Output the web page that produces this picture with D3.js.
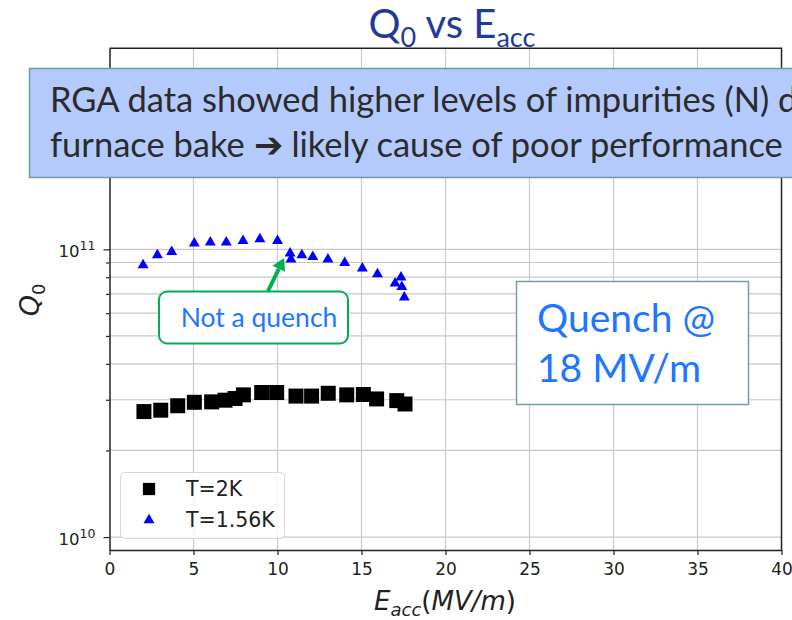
<!DOCTYPE html>
<meta charset="utf-8" />
<script src="https://d3js.org/d3.v7.min.js"></script>
<style>
  body { margin: 0; background: #fff; }
  svg { display: block; }
</style>
<body>
<div id="chart"></div>
<script>
  // measured data, T = 2K (squares)
  var e2K = [2.05, 3.05, 4.06, 5.05, 6.08, 6.88, 7.47, 7.97, 9.06, 9.95, 11.1, 12.03, 13.02, 14.12, 15.11, 15.9, 17.1, 17.59];
  var q2K = [2.73e10, 2.76e10, 2.86e10, 2.94e10, 2.95e10, 2.99e10, 3.03e10, 3.12e10, 3.18e10, 3.18e10, 3.09e10, 3.09e10, 3.16e10, 3.12e10, 3.13e10, 3.02e10, 2.98e10, 2.9e10];

  // T = 1.56K (triangles)
  var e156K = [2.0, 2.85, 3.7, 5.05, 6.0, 6.95, 7.95, 8.95, 10.0, 10.75, 10.8, 11.45, 12.1, 13.0, 14.0, 15.05, 15.95, 17.0, 17.35, 17.4, 17.55];
  var q156K = [8.82e10, 9.55e10, 9.8e10, 1.05e11, 1.057e11, 1.057e11, 1.071e11, 1.086e11, 1.071e11, 9.68e10, 9.23e10, 9.55e10, 9.42e10, 9.23e10, 8.98e10, 8.59e10, 8.21e10, 7.62e10, 8.0e10, 7.41e10, 6.81e10];

  var xTicks = [0, 5, 10, 15, 20, 25, 30, 35, 40];
  var yMajor = [1e10, 1e11];
  var yMinor = [2e10, 3e10, 4e10, 5e10, 6e10, 7e10, 8e10, 9e10, 2e11, 3e11, 4e11];
  var legendLabels = ["T=2K", "T=1.56K"];

  var W = 792, H = 620;
  var plot = { left: 109.5, right: 781.5, top: 48.3, bottom: 550 };

  var svg = d3.select("#chart").append("svg")
    .attr("width", W).attr("height", H);

  var x = d3.scaleLinear().domain([0, 40]).range([plot.left, plot.right]);
  var y = d3.scaleLog().domain([Math.pow(10, 9.955), Math.pow(10, 11.6987)]).range([plot.bottom, plot.top]);

  // grid
  var grid = svg.append("g").attr("stroke", "#c8c8c8").attr("stroke-width", 1.2);
  grid.selectAll(".vg").data(xTicks.slice(1, -1)).enter().append("line")
    .attr("x1", function(d) { return x(d); }).attr("x2", function(d) { return x(d); })
    .attr("y1", plot.top).attr("y2", plot.bottom);
  grid.selectAll(".hg").data(yMajor.concat(yMinor)).enter().append("line")
    .attr("x1", plot.left).attr("x2", plot.right)
    .attr("y1", function(d) { return y(d); }).attr("y2", function(d) { return y(d); });

  // axes
  var xAxis = svg.append("g")
    .attr("transform", "translate(0," + plot.bottom + ")")
    .call(d3.axisBottom(x).tickValues(xTicks).tickSize(5).tickSizeOuter(0).tickPadding(8));
  xAxis.selectAll("text").attr("font-family", "DejaVu Sans").attr("font-size", 17).attr("fill", "#222");

  var yAxis = svg.append("g")
    .attr("transform", "translate(" + plot.left + ",0)")
    .call(d3.axisLeft(y).tickValues(yMajor).tickSize(6).tickSizeOuter(0).tickFormat(function() { return ""; }));
  yAxis.selectAll(".tick text").each(function(d) {
    var t = d3.select(this)
      .attr("font-family", "DejaVu Sans").attr("font-size", 16.5).attr("fill", "#222")
      .attr("dy", "0.45em").attr("x", -14);
    t.append("tspan").text("10");
    t.append("tspan").attr("dy", "-0.55em").attr("font-size", 12.5).text(Math.round(Math.log10(d)));
  });
  svg.append("g")
    .attr("transform", "translate(" + plot.left + ",0)")
    .call(d3.axisLeft(y).tickValues(yMinor).tickSize(3.5).tickFormat(function() { return ""; }))
    .select(".domain").remove();

  svg.selectAll(".domain").attr("stroke", "#222").attr("stroke-width", 1.5);
  svg.selectAll(".tick line").attr("stroke", "#222").attr("stroke-width", 1.2);

  // frame top/right
  svg.append("path")
    .attr("d", "M" + plot.left + "," + plot.top + "H" + plot.right + "V" + plot.bottom)
    .attr("fill", "none").attr("stroke", "#222").attr("stroke-width", 1.5);

  // data
  var sq = d3.symbol().type(d3.symbolSquare).size(225);
  var tri = d3.symbol().type(d3.symbolTriangle).size(52);

  svg.append("g").selectAll("path").data(e2K).enter().append("path")
    .attr("d", sq)
    .attr("transform", function(d, i) { return "translate(" + x(d) + "," + y(q2K[i]) + ")"; })
    .attr("fill", "#000");

  svg.append("g").selectAll("path").data(e156K).enter().append("path")
    .attr("d", tri)
    .attr("transform", function(d, i) { return "translate(" + x(d) + "," + y(q156K[i]) + ")"; })
    .attr("fill", "#0000ff");

  // legend
  var lg = svg.append("g");
  lg.append("rect").attr("x", 120.5).attr("y", 472.5).attr("width", 164).attr("height", 66).attr("rx", 4)
    .attr("fill", "#fff").attr("fill-opacity", 0.8).attr("stroke", "#d6d6d6");
  lg.append("path").attr("d", d3.symbol().type(d3.symbolSquare).size(150))
    .attr("transform", "translate(149,489)").attr("fill", "#000");
  lg.append("path").attr("d", tri).attr("transform", "translate(149,520)").attr("fill", "#0000ff");
  lg.selectAll("text").data(legendLabels).enter().append("text")
    .attr("x", 186).attr("y", function(d, i) { return 496 + i * 31; })
    .attr("font-family", "DejaVu Sans").attr("font-size", 20.5).attr("fill", "#222")
    .text(function(d) { return d; });

  // axis labels
  var xl = svg.append("text").attr("x", 445).attr("y", 610).attr("text-anchor", "middle")
    .attr("font-family", "DejaVu Sans").attr("font-size", 26).attr("fill", "#222");
  xl.append("tspan").attr("font-style", "italic").text("E");
  xl.append("tspan").attr("font-style", "italic").attr("font-size", 18).attr("dy", 6).text("acc");
  xl.append("tspan").attr("dy", -6).text("(");
  xl.append("tspan").attr("font-style", "italic").text("MV/m");
  xl.append("tspan").text(")");

  var yl = svg.append("text").attr("transform", "translate(39,300) rotate(-90)").attr("text-anchor", "middle")
    .attr("font-family", "DejaVu Sans").attr("font-size", 27).attr("fill", "#222");
  yl.append("tspan").attr("font-style", "italic").text("Q");
  yl.append("tspan").attr("font-size", 18).attr("dy", 6).text("0");

  // title
  var title = svg.append("text").attr("x", 452).attr("y", 38).attr("text-anchor", "middle")
    .attr("font-family", "Lato").attr("font-size", 40).attr("fill", "#1f3a9a");
  title.append("tspan").text("Q");
  title.append("tspan").attr("font-size", 27).attr("dy", 9).text("0");
  title.append("tspan").attr("dy", -9).text(" vs E");
  title.append("tspan").attr("font-size", 27).attr("dy", 9).text("acc");

  // banner (runs off the right edge, as on the slide)
  svg.append("rect").attr("x", 29.5).attr("y", 68.5).attr("width", 790).attr("height", 109)
    .attr("fill", "#b4cafc").attr("stroke", "#6f9aaa").attr("stroke-width", 1.5);
  var bannerLines = ["RGA data showed higher levels of impurities (N) during", "furnace bake \u2794 likely cause of poor performance"];
  svg.selectAll(".bl").data(bannerLines).enter().append("text")
    .attr("x", 50).attr("y", function(d, i) { return 112 + i * 45; })
    .attr("font-family", "Lato").attr("font-size", 34.5).attr("fill", "#2b2b2b")
    .text(function(d) { return d; });

  // "Not a quench" callout with arrow to the data
  var tip = [x(10.39), y(9.33e10)], tail = [268, 291];
  var dx = tip[0] - tail[0], dy = tip[1] - tail[1], len = Math.sqrt(dx * dx + dy * dy);
  var ux = dx / len, uy = dy / len, base = [tip[0] - 12 * ux, tip[1] - 12 * uy];
  svg.append("line").attr("x1", tail[0]).attr("y1", tail[1]).attr("x2", base[0]).attr("y2", base[1])
    .attr("stroke", "#00b050").attr("stroke-width", 4);
  svg.append("path")
    .attr("d", "M" + tip + "L" + [base[0] - 7 * uy, base[1] + 7 * ux] + "L" + [base[0] + 7 * uy, base[1] - 7 * ux] + "Z")
    .attr("fill", "#00b050");
  svg.append("rect").attr("x", 159).attr("y", 291.5).attr("width", 189).attr("height", 52).attr("rx", 8)
    .attr("fill", "#fff").attr("stroke", "#00b050").attr("stroke-width", 2);
  svg.append("text").attr("x", 259).attr("y", 327).attr("text-anchor", "middle")
    .attr("font-family", "Lato").attr("font-size", 26.5).attr("fill", "#2176ff")
    .text("Not a quench");

  // quench box
  svg.append("rect").attr("x", 516.5).attr("y", 281.5).attr("width", 232).attr("height", 123)
    .attr("fill", "#fff").attr("stroke", "#6f9ead").attr("stroke-width", 1.5);
  svg.selectAll(".ql").data(["Quench @", "18 MV/m"]).enter().append("text")
    .attr("x", 537).attr("y", function(d, i) { return 332 + i * 50; })
    .attr("font-family", "Lato").attr("font-size", 39).attr("fill", "#2176ff")
    .text(function(d) { return d; });
</script>
</body>
